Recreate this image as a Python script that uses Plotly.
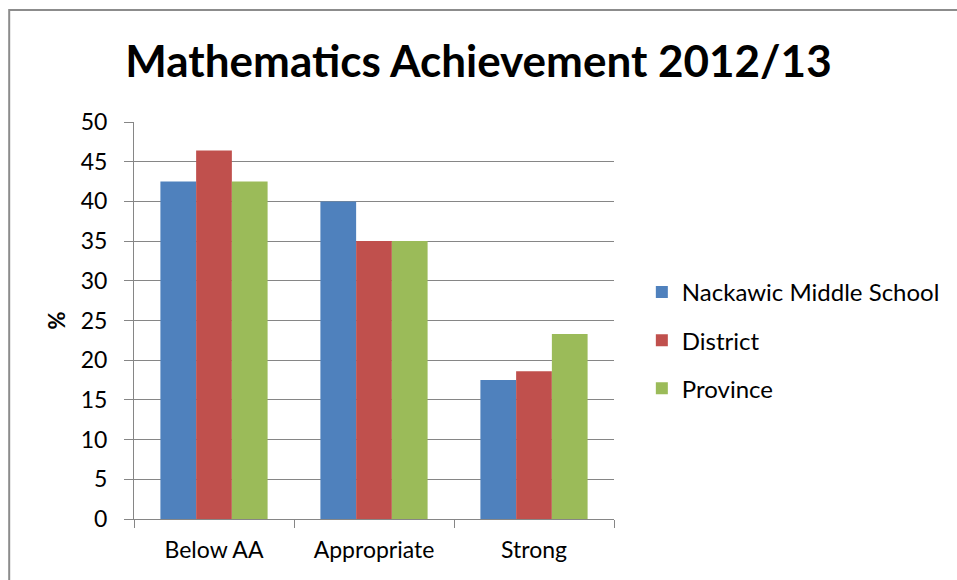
import plotly.graph_objects as go

CATEGORIAS = ['Below AA', 'Appropriate', 'Strong']
SERIES = ['Nackawic Middle School', 'District', 'Province']
ESCUELA = [42.5, 40.0, 17.5]
DISTRITO = [46.4, 35.0, 18.6]
PROVINCIA = [42.5, 35.0, 23.3]
COLORES = ['#4F81BD', '#C0504D', '#9BBB59']
Y_TICKS = [0, 5, 10, 15, 20, 25, 30, 35, 40, 45, 50]

GRIS = '#868686'
FUENTE = 'Lato'

fig = go.Figure()
for i, (nombre, vals) in enumerate(zip(SERIES, [ESCUELA, DISTRITO, PROVINCIA])):
    fig.add_trace(go.Bar(
        name=nombre, x=CATEGORIAS, y=vals,
        marker=dict(color=COLORES[i], line=dict(width=0)),
        legendgroup=str(i),
    ))

fig.update_layout(
    barmode='group', bargap=0.33, bargroupgap=0,
    width=957, height=580,
    title=dict(text='<b>Mathematics Achievement 2012/13</b>', x=0.5, xanchor='center',
               y=0.893, yanchor='middle', font=dict(family=FUENTE, size=44, color='#000000')),
    xaxis=dict(showgrid=False, showline=True, linecolor=GRIS, linewidth=1,
               ticks='outside', tickson='boundaries', ticklen=8, tickcolor=GRIS,
               ticklabelstandoff=10,
               tickfont=dict(family=FUENTE, size=23, color='#000000')),
    yaxis=dict(range=[0, 50], tickvals=Y_TICKS, showgrid=True, gridcolor=GRIS, gridwidth=1,
               showline=True, linecolor=GRIS, linewidth=1, ticks='outside', ticklen=9,
               tickcolor=GRIS, zeroline=False, ticklabelstandoff=12,
               tickfont=dict(family=FUENTE, size=23, color='#000000'),
               title=dict(text='<b>%</b>', font=dict(family=FUENTE, size=22, color='#000000'),
                          standoff=9)),
    legend=dict(x=1.058, y=0.45, xanchor='left', yanchor='middle', tracegroupgap=14,
                font=dict(family=FUENTE, size=24, color='#000000'), bgcolor='rgba(0,0,0,0)'),
    plot_bgcolor='#FFFFFF', paper_bgcolor='#FFFFFF',
    margin=dict(l=134, r=343, t=122, b=61),
    shapes=[dict(type='rect', xref='paper', yref='paper', x0=-0.26, x1=1.9, y0=-0.3, y1=1.282,
                 line=dict(color='#8C8C8C', width=2), layer='below')],
)

fig.write_html('out.html', config={'displayModeBar': False},
               post_script="document.body.style.margin='0';")
